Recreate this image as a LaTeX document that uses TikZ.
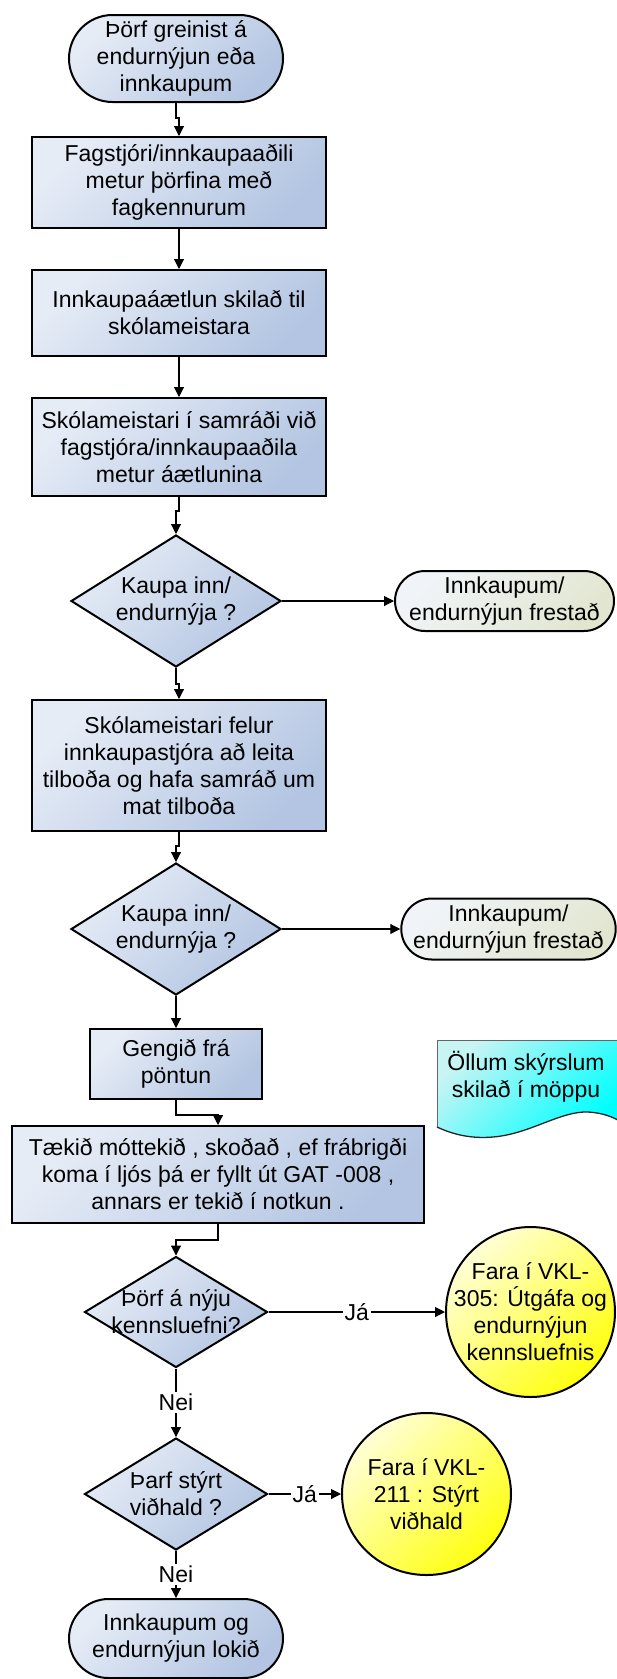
\documentclass[tikz,border=0pt]{standalone}
\usepackage{fontspec}
\setmainfont{Liberation Sans}
\usetikzlibrary{shapes.geometric,shapes.misc,arrows.meta}
\definecolor{boxL}{HTML}{E6ECF6}
\definecolor{boxD}{HTML}{B3C5E2}
\definecolor{grL}{HTML}{F0F4F8}
\definecolor{grD}{HTML}{E2E6D0}
\definecolor{yeL}{HTML}{FFFFD6}
\definecolor{yeD}{HTML}{FFFF10}
\definecolor{cyL}{HTML}{C8F4F4}
\definecolor{cyD}{HTML}{00FFFF}
\begin{document}
\begin{tikzpicture}[x=1pt,y=-1pt,
  every node/.style={font=\fontsize{23}{27}\selectfont, align=center, text=black},
  procbox/.style={rectangle, draw=black, line width=2pt, top color=boxL, bottom color=boxD, shading angle=45, inner sep=0pt},
  termbox/.style={rounded rectangle, draw=black, line width=2pt, top color=boxL, bottom color=boxD, shading angle=45, inner sep=0pt},
  postbox/.style={rounded rectangle, draw=black, line width=2pt, top color=grL, bottom color=grD, shading angle=45, inner sep=0pt},
  decbox/.style={diamond, draw=black, line width=2pt, top color=boxL, bottom color=boxD, shading angle=45, inner sep=0pt},
  linkcirc/.style={ellipse, draw=black, line width=2pt, top color=yeL, bottom color=yeD, shading angle=45, inner sep=0pt},
  plaintext/.style={inner sep=0pt},
  arr/.style={draw=black, line width=1.1pt, -{Triangle[length=10pt,width=10pt]}},
  lbl/.style={fill=white, inner sep=2pt}
]
\useasboundingbox (0,0) rectangle (616,1679);

% nodes
\node[termbox, minimum width=214pt, minimum height=87pt] (start) at (176,58.5) {Þörf greinist á\\endurnýjun eða\\innkaupum};
\node[procbox, minimum width=294pt, minimum height=91pt] (box1) at (179,182.5) {Fagstjóri/innkaupaaðili\\metur þörfina með\\fagkennurum};
\node[procbox, minimum width=294pt, minimum height=86pt] (box2) at (179,313) {Innkaupaáætlun skilað til\\skólameistara};
\node[procbox, minimum width=294pt, minimum height=98pt] (box3) at (179,447) {Skólameistari í samráði við\\fagstjóra/innkaupaaðila\\metur áætlunina};

\node[decbox, minimum width=210pt, minimum height=132pt] (d1) at (176,601) {};
\node[plaintext] (d1t) at (d1.center) {Kaupa inn/\\endurnýja ?};
\node[postbox, minimum width=219pt, minimum height=60pt] (t1) at (504.5,601) {Innkaupum/\\endurnýjun frestað};

\node[procbox, minimum width=294pt, minimum height=131pt] (box4) at (179,765.5) {Skólameistari felur\\innkaupastjóra að leita\\tilboða og hafa samráð um\\mat tilboða};

\node[decbox, minimum width=210pt, minimum height=132pt] (d2) at (176,929) {};
\node[plaintext] (d2t) at (d2.center) {Kaupa inn/\\endurnýja ?};
\node[postbox, minimum width=213pt, minimum height=61pt] (t2) at (508.5,929) {Innkaupum/\\endurnýjun frestað};

\node[procbox, minimum width=172pt, minimum height=70pt] (gengid) at (176,1064) {Gengið frá\\pöntun};

% document shape
\shade[top color=cyL, bottom color=cyD, shading angle=45]
  (437,1040) -- (620,1040) -- (620,1121)
  .. controls (612,1117) and (604,1113) .. (588,1112)
  .. controls (560,1111) and (530,1134) .. (493,1137)
  .. controls (470,1139) and (452,1134) .. (437,1127) -- cycle;
\draw[draw=black!60, line width=1pt]
  (620,1040) -- (437,1040) -- (437,1127);
\draw[draw=black!85, line width=1.3pt]
  (437,1127) .. controls (452,1134) and (470,1139) .. (493,1137)
  .. controls (530,1134) and (560,1111) .. (588,1112)
  .. controls (604,1113) and (612,1117) .. (620,1121);
\node[plaintext] (doc) at (526,1076.5) {Öllum skýrslum\\skilað í möppu};

\node[procbox, minimum width=412pt, minimum height=97pt] (taekid) at (218,1174.5) {Tækið móttekið , skoðað , ef frábrigði\\koma í ljós þá er fyllt út GAT -008 ,\\annars er tekið í notkun .};

\node[decbox, minimum width=183pt, minimum height=111pt] (d3) at (176,1312) {};
\node[plaintext] (d3t) at (d3.center) {Þörf á nýju\\kennsluefni?};
\node[linkcirc, minimum width=169pt, minimum height=170pt] (c1) at (530.5,1312) {};
\node[plaintext] (c1t) at (c1.center) {Fara í VKL-\\305: Útgáfa og\\endurnýjun\\kennsluefnis};

\node[decbox, minimum width=183pt, minimum height=112pt] (d4) at (176,1494) {};
\node[plaintext] (d4t) at (d4.center) {Þarf stýrt\\viðhald ?};
\node[linkcirc, minimum width=169pt, minimum height=162pt] (c2) at (426.5,1494) {};
\node[plaintext] (c2t) at (c2.center) {Fara í VKL-\\211 : Stýrt\\viðhald};

\node[termbox, minimum width=214pt, minimum height=79pt] (stop) at (176,1638.5) {Innkaupum og\\endurnýjun lokið};

% connectors
\draw[arr] (start.south) -- ++(0,15) -| (box1.north);
\draw[arr] (box1.south) -- (box2.north);
\draw[arr] (box2.south) -- (box3.north);
\draw[arr] (box3.south) -- ++(0,14) -| (d1.north);
\draw[arr] (d1.east) -- (t1.west);
\draw[arr] (d1.south) -- ++(0,16) -| (box4.north);
\draw[arr] (box4.south) -- ++(0,14) -| (d2.north);
\draw[arr] (d2.east) -- (t2.west);
\draw[arr] (d2.south) -- (gengid.north);
\draw[arr] (gengid.south) -- ++(0,15) -| (taekid.north);
\draw[arr] (taekid.south) -- ++(0,16) -| (d3.north);
\draw[arr] (d3.east) -- node[lbl] (ja1) {Já} (c1.west);
\draw[arr] (d3.south) -- node[lbl] (nei1) {Nei} (d4.north);
\draw[arr] (d4.east) -- node[lbl] (ja2) {Já} (c2.west);
\draw[arr] (d4.south) -- node[lbl] (nei2) {Nei} (stop.north);
\end{tikzpicture}
\end{document}
